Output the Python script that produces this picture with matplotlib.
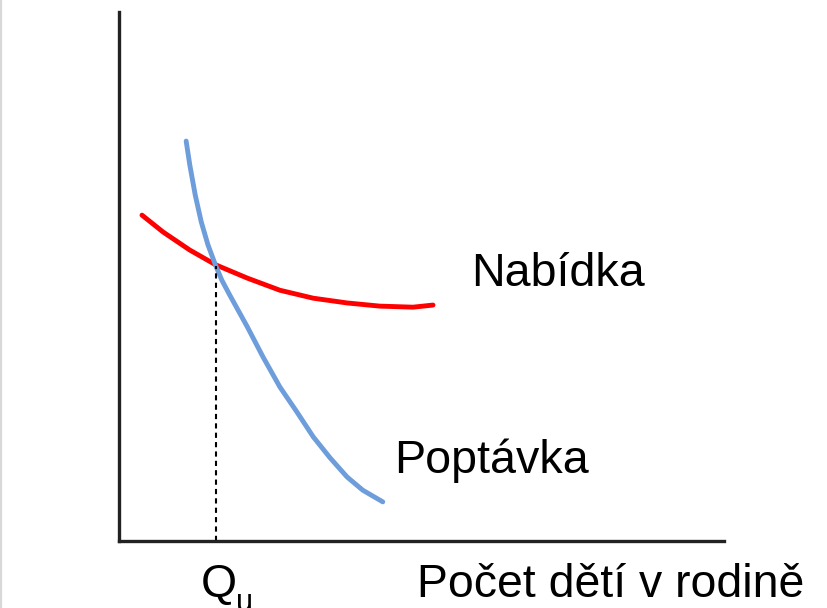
import matplotlib
matplotlib.use('Agg')
import matplotlib.pyplot as plt
from matplotlib.lines import Line2D

plt.rcParams['font.family'] = ['Liberation Sans', 'DejaVu Sans']

# nabidka (supply), values in chart units 0..100
supply_q = [3.8, 7.3, 11.7, 16.0, 21.2, 26.6, 32.1, 37.7, 43.1, 48.6, 51.9]
supply_p = [61.6, 58.4, 55.0, 52.2, 49.7, 47.4, 45.9, 45.0, 44.4, 44.2, 44.6]

# poptavka (demand)
demand_q = [11.1, 11.7, 12.6, 13.6, 14.7, 16.0, 17.0, 18.3, 21.2, 23.8, 26.6,
            29.4, 32.1, 34.9, 37.7, 40.3, 43.6]
demand_p = [75.6, 71.1, 65.4, 60.3, 56.0, 52.0, 49.3, 46.5, 40.5, 34.8, 29.1,
            24.4, 19.7, 15.7, 12.1, 9.6, 7.4]

q_eq = 16.0
p_eq = 52.0

W, H = 827, 608


def fx(px):
    return px / W


def fy(py):
    return 1 - py / H


def main():
    fig = plt.figure(figsize=(W / 100, H / 100), dpi=100)
    ax = fig.add_axes([fx(119), fy(541), (724 - 119) / W, (541 - 12) / H])
    ax.set_xlim(0, 100)
    ax.set_ylim(0, 100)

    ax.plot(supply_q, supply_p, color='#ff0000', lw=3.5,
            solid_capstyle='round', solid_joinstyle='round')
    ax.plot(demand_q, demand_p, color='#6d9ddb', lw=3.5,
            solid_capstyle='round', solid_joinstyle='round')
    ax.plot([q_eq, q_eq], [0, p_eq], color='black', lw=1.5, linestyle=(0, (2.5, 2)))

    for side in ['top', 'right']:
        ax.spines[side].set_visible(False)
    for side in ['left', 'bottom']:
        ax.spines[side].set_linewidth(2.4)
        ax.spines[side].set_color('#222222')
    ax.set_xticks([])
    ax.set_yticks([])

    fig.text(fx(471), fy(286), 'Nabídka', fontsize=33.6, va='baseline', ha='left')
    fig.text(fx(394), fy(473), 'Poptávka', fontsize=33.6, va='baseline', ha='left')
    fig.text(fx(417), fy(597), 'Počet dětí v rodině', fontsize=33.4, va='baseline', ha='left')
    fig.text(fx(201), fy(597), 'Q', fontsize=33.4, va='baseline', ha='left')
    fig.text(fx(236), fy(611), 'u', fontsize=22, va='baseline', ha='left')

    fig.add_artist(Line2D([fx(1), fx(1)], [0, 1], transform=fig.transFigure,
                          color='#d8d8d8', lw=1.6))

    fig.savefig('out.png', dpi=100)


if __name__ == '__main__':
    main()
